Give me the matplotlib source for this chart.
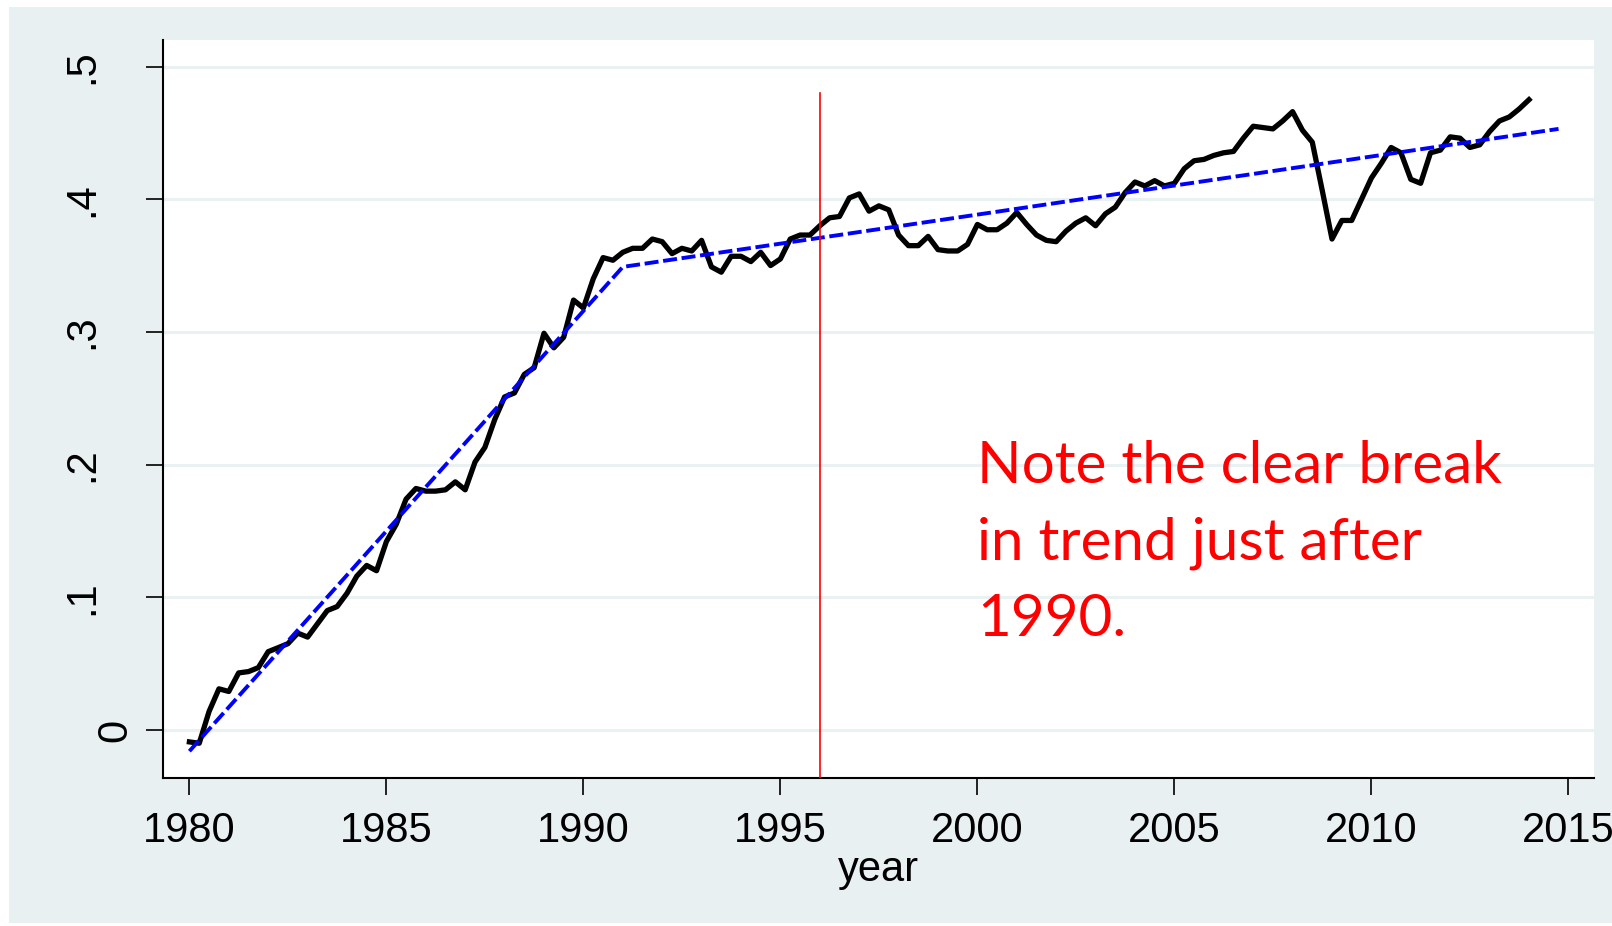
import numpy as np
import matplotlib
matplotlib.use("Agg")
import matplotlib.pyplot as plt
from matplotlib.patches import Rectangle
from matplotlib.transforms import ScaledTranslation

# quarterly series, 1980q1 .. 2014q1
start_year = 1980
share = [
    -0.009, -0.010, 0.014, 0.031,   # 1980
    0.029, 0.043, 0.044, 0.047,     # 1981
    0.059, 0.062, 0.065, 0.073,     # 1982
    0.070, 0.080, 0.090, 0.093,     # 1983
    0.103, 0.116, 0.124, 0.120,     # 1984
    0.142, 0.155, 0.174, 0.182,     # 1985
    0.180, 0.180, 0.181, 0.187,     # 1986
    0.181, 0.202, 0.213, 0.234,     # 1987
    0.251, 0.254, 0.268, 0.273,     # 1988
    0.299, 0.288, 0.296, 0.324,     # 1989
    0.318, 0.340, 0.356, 0.354,     # 1990
    0.360, 0.363, 0.363, 0.370,     # 1991
    0.368, 0.359, 0.363, 0.361,     # 1992
    0.369, 0.349, 0.345, 0.357,     # 1993
    0.357, 0.353, 0.360, 0.350,     # 1994
    0.355, 0.370, 0.373, 0.373,     # 1995
    0.380, 0.386, 0.387, 0.401,     # 1996
    0.404, 0.391, 0.395, 0.392,     # 1997
    0.373, 0.365, 0.365, 0.372,     # 1998
    0.362, 0.361, 0.361, 0.366,     # 1999
    0.381, 0.377, 0.377, 0.382,     # 2000
    0.390, 0.381, 0.373, 0.369,     # 2001
    0.368, 0.376, 0.382, 0.386,     # 2002
    0.380, 0.389, 0.394, 0.405,     # 2003
    0.413, 0.410, 0.414, 0.410,     # 2004
    0.412, 0.423, 0.429, 0.430,     # 2005
    0.433, 0.435, 0.436, 0.446,     # 2006
    0.455, 0.454, 0.453, 0.459,     # 2007
    0.466, 0.452, 0.443, 0.407,     # 2008
    0.370, 0.384, 0.384, 0.400,     # 2009
    0.416, 0.427, 0.439, 0.435,     # 2010
    0.415, 0.412, 0.435, 0.437,     # 2011
    0.447, 0.446, 0.439, 0.441,     # 2012
    0.451, 0.459, 0.462, 0.468,     # 2013
    0.475,                          # 2014
]
year = start_year + np.arange(len(share)) / 4.0

# broken linear trend (knots)
trend_years = [1980, 1991, 2014.75]
trend_vals = [-0.016, 0.349, 0.453]

break_year = 1996
break_top = 0.48

xticks = [1980, 1985, 1990, 1995, 2000, 2005, 2010, 2015]
yticks = [0, 0.1, 0.2, 0.3, 0.4, 0.5]
ytick_labels = ["0", ".1", ".2", ".3", ".4", ".5"]

note_lines = ["Note the clear break", "in trend just after", "1990."]

bg = "#e8f0f2"
plt.rcParams["font.family"] = ["Liberation Sans", "DejaVu Sans"]

fig = plt.figure(figsize=(16.12, 9.26), dpi=100, facecolor="white")
fig.patches.append(Rectangle((9 / 1612, 3 / 926), 1 - 9 / 1612, 916 / 926,
                             transform=fig.transFigure, facecolor=bg,
                             edgecolor="none", zorder=-10))
ax = fig.add_axes([163 / 1612, 148 / 926, 1431 / 1612, 738 / 926])
ax.set_facecolor("white")

for yv in yticks:
    ax.axhline(yv, color="#eaf1f3", lw=2.2, zorder=0)

ax.plot(year, share, color="black", lw=3.8, zorder=2)
ax.plot(trend_years, trend_vals, color="#0000ff", lw=2.8,
        dashes=(3.6, 1.2), zorder=3)
ax.plot([break_year, break_year], [-0.05, break_top], color="red", lw=1.2,
        zorder=4)

for i, line in enumerate(note_lines):
    ax.text(2000.0, 0.1865 - i * 0.0577, line, color="red", fontsize=42,
            family=["Lato", "DejaVu Sans"], va="baseline", ha="left")

ax.set_xlim(1979.33, 2015.65)
ax.set_ylim(-0.0362, 0.52)
ax.set_xticks(xticks)
ax.set_yticks(yticks)
ax.set_yticklabels(ytick_labels, rotation=90, va="center")
ax.tick_params(axis="both", labelsize=30, length=12, width=1.2,
               color="black", direction="out")
ax.tick_params(axis="x", pad=12)
ax.tick_params(axis="y", pad=32)
ax.set_xlabel("year", fontsize=30, labelpad=-1)

# the "0" label sits closer to the axis in the original
zero_lab = ax.yaxis.get_major_ticks()[0].label1
zero_lab.set_transform(zero_lab.get_transform()
                       + ScaledTranslation(0.33, 0, fig.dpi_scale_trans))

for side in ["top", "right"]:
    ax.spines[side].set_visible(False)
for side in ["left", "bottom"]:
    ax.spines[side].set_linewidth(1.5)

fig.savefig("out.png", dpi=100, facecolor=fig.get_facecolor())
